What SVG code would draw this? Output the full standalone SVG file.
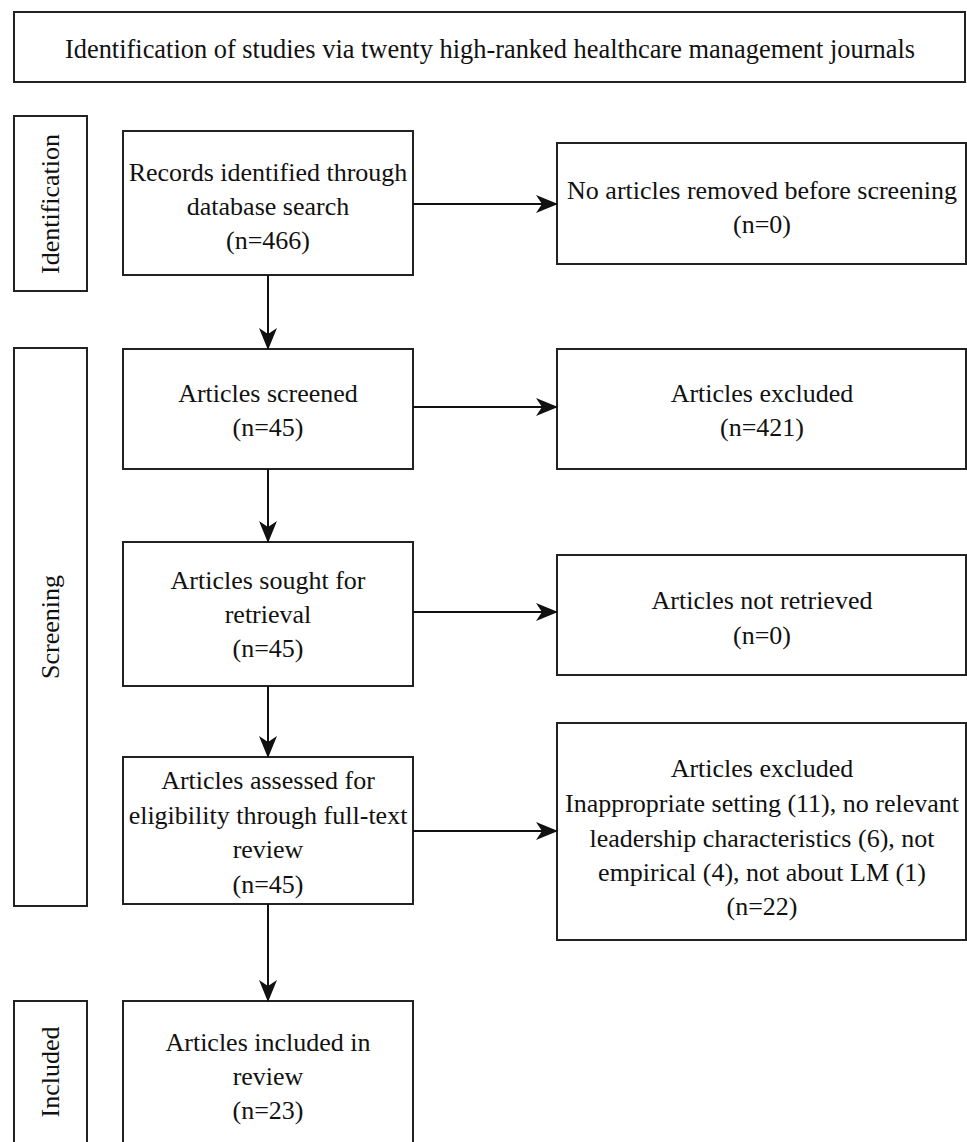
<svg xmlns="http://www.w3.org/2000/svg" width="967" height="1142" viewBox="0 0 967 1142">
<style>
.box{fill:#fff;stroke:#222;stroke-width:2}
.t{font-family:"Liberation Serif","Times New Roman",serif;font-size:26px;fill:#111;text-anchor:middle}
.tt{font-family:"Liberation Serif","Times New Roman",serif;font-size:26.4px;fill:#111;text-anchor:middle}
.edge{stroke:#111;stroke-width:2;fill:none}
</style>
<defs>
<marker id="ah" viewBox="0 0 22 18" refX="21" refY="9" markerWidth="22" markerHeight="18" markerUnits="userSpaceOnUse" orient="auto">
<path d="M0,0 L22,9 L0,18 L6,9 Z" fill="#111"/>
</marker>
</defs>
<rect width="967" height="1142" fill="#fff"/>
<g id="title"><rect class="box" x="14" y="12" width="951" height="70"/><text class="tt" x="490" y="58">Identification of studies via twenty high-ranked healthcare management journals</text></g>
<g id="lbl-identification"><rect class="box" x="14" y="116" width="73" height="175"/><text class="t" transform="translate(59,204) rotate(-90)">Identification</text></g>
<g id="lbl-screening"><rect class="box" x="14" y="348" width="73" height="558"/><text class="t" transform="translate(59,627) rotate(-90)">Screening</text></g>
<g id="lbl-included"><rect class="box" x="14" y="1001" width="73" height="150"/><text class="t" transform="translate(59,1072) rotate(-90)">Included</text></g>
<g id="records"><rect class="box" x="123" y="131" width="290" height="144"/><text class="t" x="268" y="181">Records identified through</text><text class="t" x="268" y="215">database search</text><text class="t" x="268" y="249">(n=466)</text></g>
<g id="removed"><rect class="box" x="557" y="143" width="409" height="121"/><text class="t" x="762" y="199">No articles removed before screening</text><text class="t" x="762" y="233">(n=0)</text></g>
<g id="screened"><rect class="box" x="123" y="349" width="290" height="120"/><text class="t" x="268" y="402">Articles screened</text><text class="t" x="268" y="436">(n=45)</text></g>
<g id="excluded1"><rect class="box" x="557" y="349" width="409" height="120"/><text class="t" x="762" y="402">Articles excluded</text><text class="t" x="762" y="436">(n=421)</text></g>
<g id="sought"><rect class="box" x="123" y="542" width="290" height="144"/><text class="t" x="268" y="589">Articles sought for</text><text class="t" x="268" y="623">retrieval</text><text class="t" x="268" y="657">(n=45)</text></g>
<g id="notretrieved"><rect class="box" x="557" y="555" width="409" height="120"/><text class="t" x="762" y="609">Articles not retrieved</text><text class="t" x="762" y="644">(n=0)</text></g>
<g id="assessed"><rect class="box" x="123" y="757" width="290" height="147"/><text class="t" x="268" y="789">Articles assessed for</text><text class="t" x="268" y="824">eligibility through full-text</text><text class="t" x="268" y="858">review</text><text class="t" x="268" y="893">(n=45)</text></g>
<g id="excluded2"><rect class="box" x="557" y="723" width="409" height="217"/><text class="t" x="762" y="777">Articles excluded</text><text class="t" x="762" y="812">Inappropriate setting (11), no relevant</text><text class="t" x="762" y="847">leadership characteristics (6), not</text><text class="t" x="762" y="881">empirical (4), not about LM (1)</text><text class="t" x="762" y="915">(n=22)</text></g>
<g id="included"><rect class="box" x="123" y="1001" width="290" height="150"/><text class="t" x="268" y="1051">Articles included in</text><text class="t" x="268" y="1085">review</text><text class="t" x="268" y="1119">(n=23)</text></g>
<g id="connectors">
<line class="edge" x1="413" y1="204" x2="557" y2="204" marker-end="url(#ah)"/>
<line class="edge" x1="268" y1="275" x2="268" y2="349" marker-end="url(#ah)"/>
<line class="edge" x1="413" y1="407" x2="557" y2="407" marker-end="url(#ah)"/>
<line class="edge" x1="268" y1="469" x2="268" y2="542" marker-end="url(#ah)"/>
<line class="edge" x1="413" y1="612" x2="557" y2="612" marker-end="url(#ah)"/>
<line class="edge" x1="268" y1="686" x2="268" y2="757" marker-end="url(#ah)"/>
<line class="edge" x1="413" y1="831" x2="557" y2="831" marker-end="url(#ah)"/>
<line class="edge" x1="268" y1="904" x2="268" y2="1001" marker-end="url(#ah)"/>
</g>
</svg>
